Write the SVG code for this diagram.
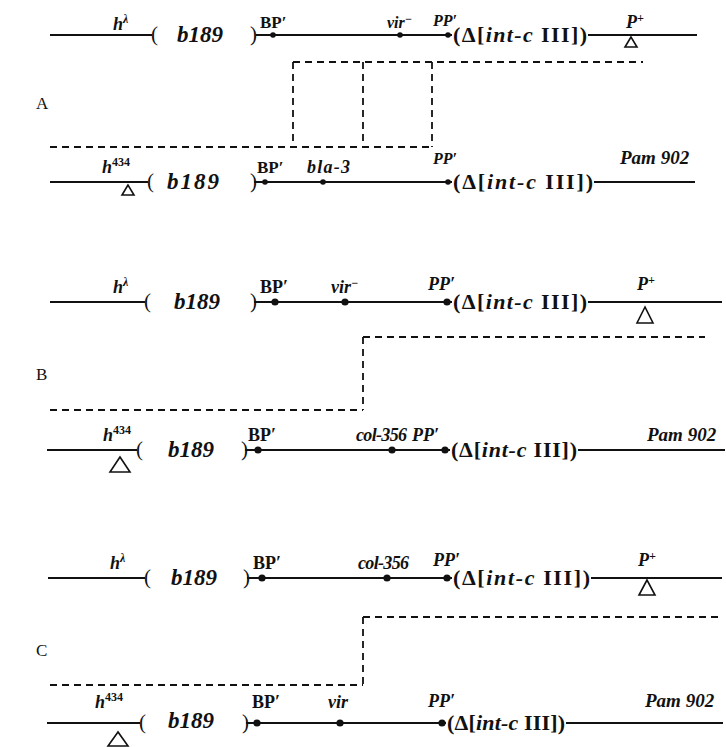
<svg xmlns="http://www.w3.org/2000/svg" width="726" height="747" viewBox="0 0 726 747">
<style>
text{font-family:"Liberation Serif","Times New Roman",serif;fill:#111}
.bi{font-weight:bold;font-style:italic;font-size:18px}
.sm{font-size:16px}
.bp{font-weight:bold;font-size:18px}
.big{font-weight:bold;font-style:italic;font-size:23px}
.par{font-size:21px}
.del{font-weight:bold;font-size:22px}
.del tspan.i{font-style:italic}
.sup{font-size:12px;font-weight:bold}
.supn{font-size:12px;font-weight:bold;font-style:normal}
.pl{font-size:17px}
.ln{stroke:#111;stroke-width:1.8;fill:none}
.dash{stroke:#111;stroke-width:1.8;fill:none;stroke-dasharray:7 5}
.tri{fill:#fff;stroke:#111;stroke-width:1.6}
.dot{fill:#111}
</style>

<g id="label-A"><text class="pl" x="36" y="109">A</text></g>
<g id="label-B"><text class="pl" x="36" y="380">B</text></g>
<g id="label-C"><text class="pl" x="36" y="656">C</text></g>

<g id="A-top">
<line class="ln" x1="50" y1="35" x2="152" y2="35"/>
<text class="par" x="151" y="41">(</text>
<text class="bi" x="113" y="30">h<tspan class="sup" dy="-7">λ</tspan></text>
<text class="big" x="177" y="42">b189</text>
<text class="par" x="250" y="41">)</text>
<line class="ln" x1="256" y1="35" x2="452" y2="35"/>
<text class="bp" x="260" y="28" style="font-size:17px">BP′</text>
<circle class="dot" cx="273" cy="35" r="2.8"/>
<text class="bi sm" x="387" y="28">vir<tspan class="sup" dy="-5">−</tspan></text>
<circle class="dot" cx="400" cy="35" r="2.8"/>
<text class="bi sm" x="433" y="26">PP′</text>
<circle class="dot" cx="448" cy="35" r="2.8"/>
<text class="del" x="453" y="42" textLength="134">(Δ[<tspan class="i">int-c</tspan> III])</text>
<line class="ln" x1="588" y1="35" x2="697" y2="35"/>
<text class="bi" x="626" y="28">P<tspan class="sup" dy="-6">+</tspan></text>
<polygon class="tri" points="631,37 625,47 637,47"/>
</g>

<g id="A-bottom">
<line class="ln" x1="50" y1="182" x2="148" y2="182"/>
<text class="par" x="147" y="188">(</text>
<text class="bi" x="102" y="173">h<tspan class="supn" dy="-7">434</tspan></text>
<polygon class="tri" points="128,185 122,195 134,195"/>
<text class="big" x="167" y="189" textLength="52">b189</text>
<text class="par" x="250" y="188">)</text>
<line class="ln" x1="254" y1="182" x2="452" y2="182"/>
<text class="bp" x="257" y="173" style="font-size:17px">BP′</text>
<circle class="dot" cx="265" cy="182" r="2.8"/>
<text class="bi" x="307" y="173" textLength="43">bla-3</text>
<circle class="dot" cx="323" cy="182" r="2.8"/>
<text class="bi sm" x="433" y="164">PP′</text>
<circle class="dot" cx="448" cy="182" r="2.8"/>
<text class="del" x="453" y="189" textLength="140">(Δ[<tspan class="i">int-c</tspan> III])</text>
<line class="ln" x1="594" y1="182" x2="695" y2="182"/>
<text class="bi" x="620" y="164" style="font-size:19px">Pam 902</text>
</g>

<g id="B-top">
<line class="ln" x1="50" y1="302" x2="145" y2="302"/>
<text class="par" x="144" y="308">(</text>
<text class="bi" x="113" y="293">h<tspan class="sup" dy="-7">λ</tspan></text>
<text class="big" x="174" y="309">b189</text>
<text class="par" x="250" y="308">)</text>
<line class="ln" x1="254" y1="302" x2="452" y2="302"/>
<text class="bp" x="260" y="293">BP′</text>
<circle class="dot" cx="275" cy="302" r="3.6"/>
<text class="bi" x="331" y="293">vir<tspan class="sup" dy="-6">−</tspan></text>
<circle class="dot" cx="345" cy="302" r="3.6"/>
<text class="bi" x="428" y="290">PP′</text>
<circle class="dot" cx="447" cy="302" r="3.6"/>
<text class="del" x="453" y="309" textLength="134">(Δ[<tspan class="i">int-c</tspan> III])</text>
<line class="ln" x1="588" y1="302" x2="722" y2="302"/>
<text class="bi" x="637" y="290">P<tspan class="sup" dy="-6">+</tspan></text>
<polygon class="tri" points="645,307 637,323 653,323"/>
</g>

<g id="B-bottom">
<line class="ln" x1="47" y1="450" x2="137" y2="450"/>
<text class="par" x="136" y="456">(</text>
<text class="bi" x="103" y="441">h<tspan class="supn" dy="-7">434</tspan></text>
<polygon class="tri" points="120,457 110,472 130,472"/>
<text class="big" x="168" y="457">b189</text>
<text class="par" x="241" y="456">)</text>
<line class="ln" x1="245" y1="450" x2="450" y2="450"/>
<text class="bp" x="248" y="441">BP′</text>
<circle class="dot" cx="258" cy="450" r="3.6"/>
<text class="bi" x="356" y="441" textLength="51">col-356</text>
<circle class="dot" cx="392" cy="450" r="3.6"/>
<text class="bi" x="412" y="441">PP′</text>
<circle class="dot" cx="445" cy="450" r="3.6"/>
<text class="del" x="451" y="457" textLength="126">(Δ[<tspan class="i">int-c</tspan> III])</text>
<line class="ln" x1="578" y1="450" x2="725" y2="450"/>
<text class="bi" x="647" y="441" style="font-size:19px">Pam 902</text>
</g>

<g id="C-top">
<line class="ln" x1="48" y1="578" x2="145" y2="578"/>
<text class="par" x="144" y="584">(</text>
<text class="bi" x="110" y="569">h<tspan class="sup" dy="-7">λ</tspan></text>
<text class="big" x="171" y="585">b189</text>
<text class="par" x="243" y="584">)</text>
<line class="ln" x1="247" y1="578" x2="452" y2="578"/>
<text class="bp" x="253" y="569">BP′</text>
<circle class="dot" cx="262" cy="578" r="3.6"/>
<text class="bi" x="358" y="569" textLength="51">col-356</text>
<circle class="dot" cx="387" cy="578" r="3.6"/>
<text class="bi" x="433" y="566">PP′</text>
<circle class="dot" cx="447" cy="578" r="3.6"/>
<text class="del" x="453" y="585" textLength="137">(Δ[<tspan class="i">int-c</tspan> III])</text>
<line class="ln" x1="591" y1="578" x2="722" y2="578"/>
<text class="bi" x="638" y="566">P<tspan class="sup" dy="-6">+</tspan></text>
<polygon class="tri" points="647,580 639,595 655,595"/>
</g>

<g id="C-bottom">
<line class="ln" x1="47" y1="723" x2="140" y2="723"/>
<text class="par" x="139" y="729">(</text>
<text class="bi" x="95" y="708">h<tspan class="supn" dy="-7">434</tspan></text>
<polygon class="tri" points="118,732 108,746 128,746"/>
<text class="big" x="168" y="728">b189</text>
<text class="par" x="242" y="729">)</text>
<line class="ln" x1="246" y1="723" x2="446" y2="723"/>
<text class="bp" x="252" y="708">BP′</text>
<circle class="dot" cx="257" cy="723" r="3.6"/>
<text class="bi" x="328" y="708">vir</text>
<circle class="dot" cx="340" cy="723" r="3.6"/>
<text class="bi" x="428" y="707">PP′</text>
<circle class="dot" cx="442" cy="723" r="3.6"/>
<text class="del" x="447" y="730" textLength="118">(Δ[<tspan class="i">int-c</tspan> III])</text>
<line class="ln" x1="566" y1="723" x2="723" y2="723"/>
<text class="bi" x="645" y="707" style="font-size:19px">Pam 902</text>
</g>

<g id="connectors">
<path class="dash" d="M293,62 H643 M293,62 V147 M363,62 V147 M432,62 V147 M50,147 H432"/>
<path class="dash" d="M363,337 H705 M363,337 V410 M50,410 H363"/>
<path class="dash" d="M363,617 H722 M363,617 V685 M50,685 H363"/>
</g>
</svg>
